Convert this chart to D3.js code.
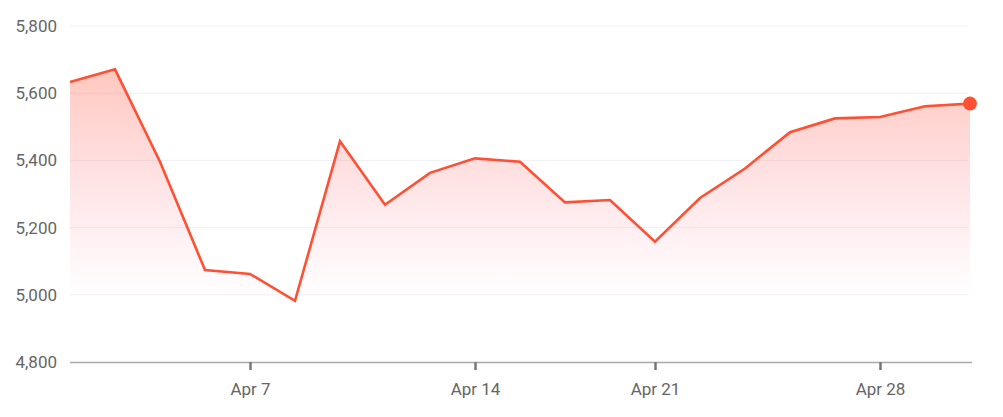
<!DOCTYPE html>
<html><head><meta charset="utf-8">
<script src="https://cdn.jsdelivr.net/npm/d3@7"></script>
<style>
html,body{margin:0;padding:0;background:#fff;}
svg{display:block;font-family:Roboto,"Noto Sans",sans-serif;}
</style></head><body>
<svg id="c" width="1003" height="417"></svg>
<script>
const dates = ["2025-04-01","2025-04-02","2025-04-03","2025-04-04","2025-04-07","2025-04-08","2025-04-09","2025-04-10","2025-04-11","2025-04-14","2025-04-15","2025-04-16","2025-04-17","2025-04-21","2025-04-22","2025-04-23","2025-04-24","2025-04-25","2025-04-28","2025-04-29","2025-04-30"];
const values = [5633,5671,5396,5074,5062,4982,5457,5268,5363,5406,5396,5275,5282,5158,5288,5376,5484,5525,5529,5561,5569];
const xTickDates = ["2025-04-07","2025-04-14","2025-04-21","2025-04-28"];
const xTickLabels = ["Apr 7","Apr 14","Apr 21","Apr 28"];
const yTicks = [4800,5000,5200,5400,5600,5800];

const svg = d3.select("#c");
const m = {l:70, r:33, t:26, b:55};
const W = 1003, H = 417;
const x = d3.scalePoint().domain(dates).range([m.l, W - m.r]);
const y = d3.scaleLinear().domain([4800,5800]).range([H - m.b, m.t]);

const defs = svg.append("defs");
const g = defs.append("linearGradient").attr("id","fillg")
  .attr("gradientUnits","userSpaceOnUse")
  .attr("x1",0).attr("x2",0).attr("y1",y(5680)).attr("y2",y(4990));
g.append("stop").attr("offset","0%").attr("stop-color","#ff5a3c").attr("stop-opacity",0.34);
g.append("stop").attr("offset","100%").attr("stop-color","#ff6090").attr("stop-opacity",0.0);

// grid
svg.append("g").selectAll("line").data(yTicks.filter(d=>d>4800)).join("line")
  .attr("x1",m.l).attr("x2",W-m.r-2)
  .attr("y1",d=>y(d)).attr("y2",d=>y(d))
  .attr("stroke","#f0f0f3").attr("stroke-width",1);

// y labels
svg.append("g").selectAll("text").data(yTicks).join("text")
  .attr("x",57).attr("y",d=>y(d)).attr("dy","0.35em")
  .attr("text-anchor","end").attr("fill","#666").attr("font-size",17)
  .text(d=>d3.format(",")(d));

const pts = dates.map((d,i)=>({d, v: values[i]}));
svg.append("path").datum(pts)
  .attr("fill","url(#fillg)")
  .attr("d", d3.area().x(p=>x(p.d)).y0(y(4800)).y1(p=>y(p.v)));

// x axis
const xa = svg.append("g").attr("transform",`translate(0,${y(4800)})`)
  .call(d3.axisBottom(x).tickValues(xTickDates).tickSize(8).tickPadding(13)
    .tickFormat((d)=>xTickLabels[xTickDates.indexOf(d)]));
xa.select(".domain").attr("d",`M${m.l},0.5H${W-m.r+2}`).attr("stroke","#aaa").attr("stroke-width",1.5);
xa.selectAll(".tick line").attr("stroke","#777").attr("stroke-width",2.5);
xa.selectAll(".tick text").attr("fill","#666").attr("font-size",17).attr("font-family","Roboto,sans-serif");

svg.append("path").datum(pts)
  .attr("fill","none").attr("stroke","#ff5033").attr("stroke-width",2.6)
  .attr("stroke-linejoin","miter")
  .attr("d", d3.line().x(p=>x(p.d)).y(p=>y(p.v)));

const last = pts[pts.length-1];
svg.append("circle").attr("cx",x(last.d)).attr("cy",y(last.v)).attr("r",7).attr("fill","#ff5033");
</script>
</body></html>
